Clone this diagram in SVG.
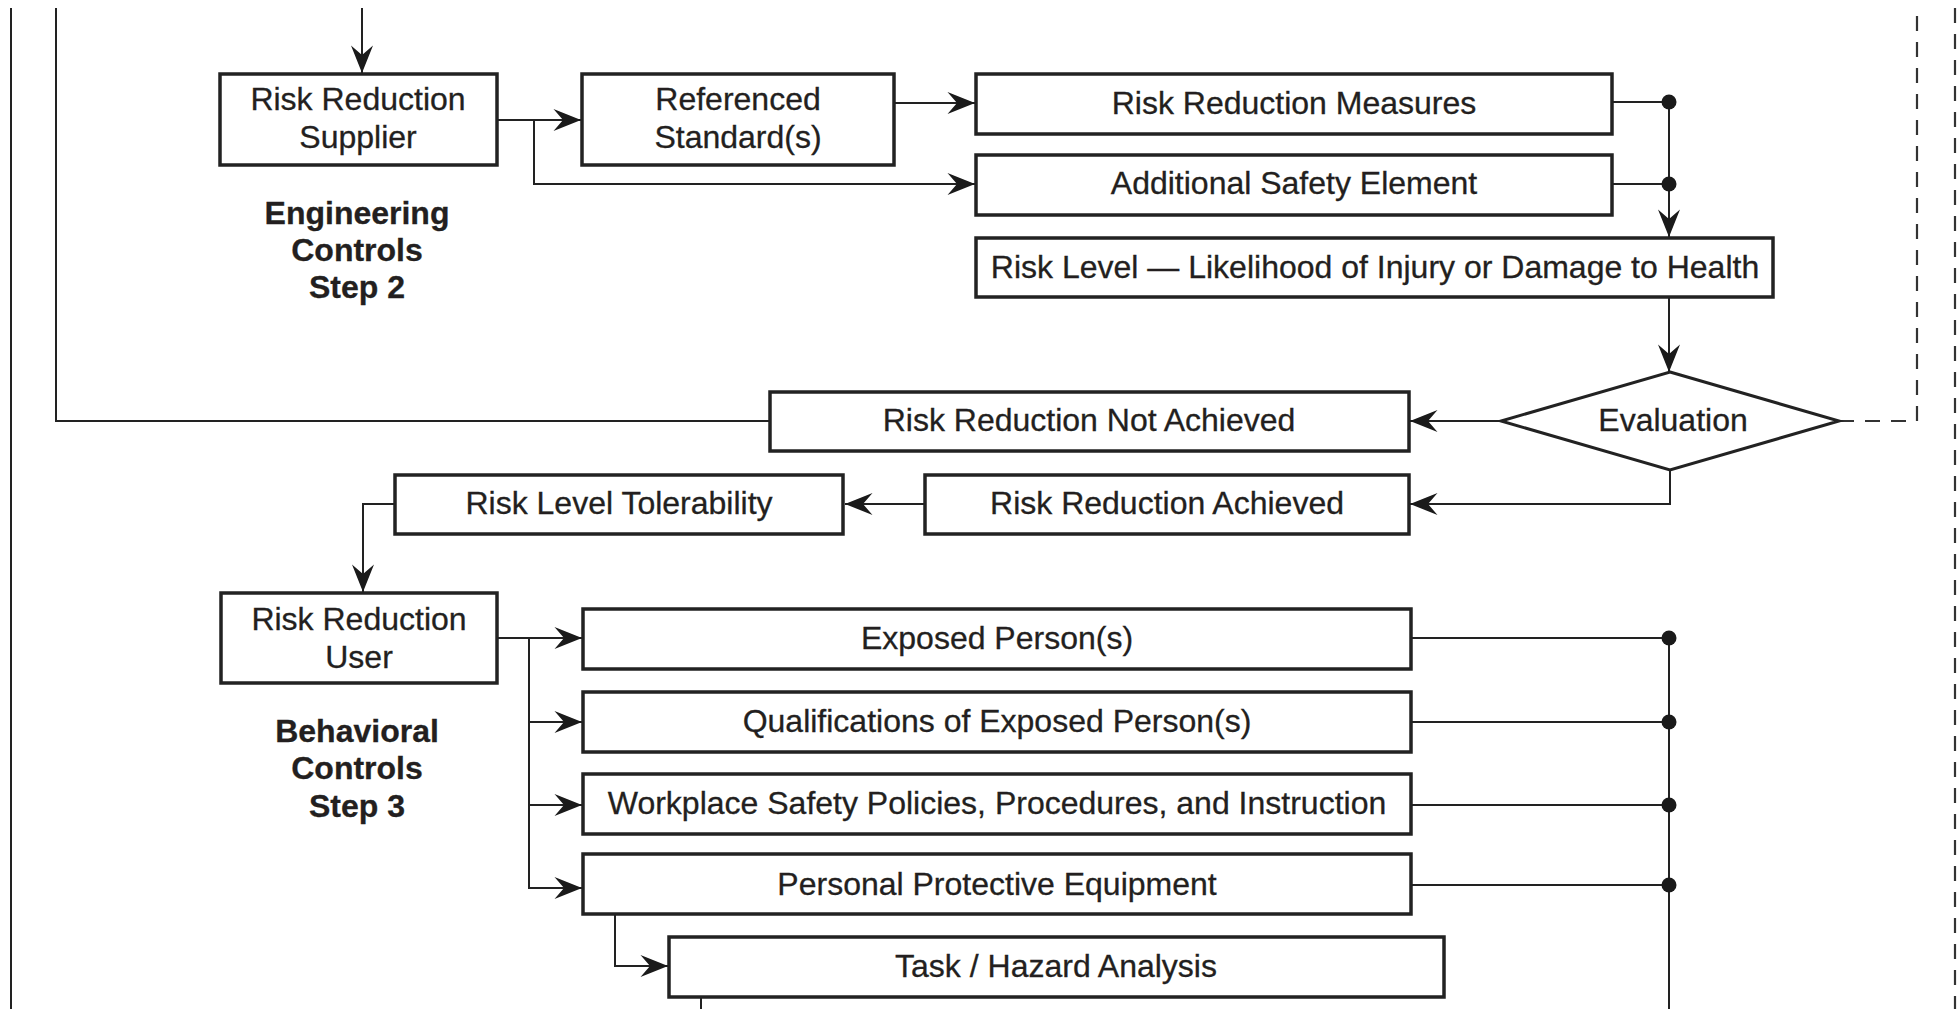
<svg xmlns="http://www.w3.org/2000/svg" width="1958" height="1009" viewBox="0 0 1958 1009">
<style>
.box{fill:#fff;stroke:#222;stroke-width:3.5}
.t{font-family:"Liberation Sans",Arial,Helvetica,sans-serif;font-size:32px;fill:#231f20;text-anchor:middle;stroke:#231f20;stroke-width:0.3}
.b{font-weight:bold}
.c{fill:none;stroke:#222;stroke-width:2}
.a{marker-end:url(#arr)}
.d{fill:none;stroke:#333;stroke-width:2.2;stroke-dasharray:15 11}
.dot{fill:#1a1a1a}
</style>
<defs>
<marker id="arr" markerWidth="30" markerHeight="24" refX="28" refY="12" orient="auto" markerUnits="userSpaceOnUse" viewBox="0 0 30 24">
<path d="M28,12 L0.5,1 L10,12 L0.5,23 Z" fill="#1a1a1a"/>
</marker>
</defs>
<rect width="1958" height="1009" fill="#fff"/>

<g id="connectors">
<path class="c" d="M11,8 V1009"/>
<path class="d" d="M1955,8 V1009"/>
<path class="c a" d="M362,8 V73"/>
<path class="c a" d="M497,120 H581"/>
<path class="c a" d="M534,120 V184 H975"/>
<path class="c a" d="M894,103 H975"/>
<path class="c" d="M1612,102 H1669"/>
<path class="c" d="M1612,184 H1669"/>
<path class="c a" d="M1669,102 V237"/>
<path class="c a" d="M1669,297 V372"/>
<path class="c a" d="M1501,421 H1410"/>
<path class="c" d="M769,421 H56 V8"/>
<path class="d" d="M1839,421 H1917 V8"/>
<path class="c a" d="M1670,470 V504 H1410"/>
<path class="c a" d="M924,504 H845"/>
<path class="c a" d="M394,504 H363 V592"/>
<path class="c a" d="M497,638 H582"/>
<path class="c a" d="M529,638 V888 H582"/>
<path class="c a" d="M529,722 H582"/>
<path class="c a" d="M529,805 H582"/>
<path class="c" d="M1411,638 H1669"/>
<path class="c" d="M1411,722 H1669"/>
<path class="c" d="M1411,805 H1669"/>
<path class="c" d="M1411,885 H1669"/>
<path class="c" d="M1669,638 V1009"/>
<path class="c a" d="M615,914 V966 H668"/>
<path class="c" d="M701,997 V1009"/>
<circle class="dot" cx="1669" cy="102" r="7.5"/>
<circle class="dot" cx="1669" cy="184" r="7.5"/>
<circle class="dot" cx="1669" cy="638" r="7.5"/>
<circle class="dot" cx="1669" cy="722" r="7.5"/>
<circle class="dot" cx="1669" cy="805" r="7.5"/>
<circle class="dot" cx="1669" cy="885" r="7.5"/>
</g>

<g id="supplier">
<rect class="box" x="220" y="74" width="277" height="91"/>
<text class="t" x="358" y="110">Risk Reduction</text>
<text class="t" x="358" y="148">Supplier</text>
</g>
<g id="step2-label">
<text class="t b" x="357" y="224">Engineering</text>
<text class="t b" x="357" y="261">Controls</text>
<text class="t b" x="357" y="298">Step 2</text>
</g>
<g id="referenced">
<rect class="box" x="582" y="74" width="312" height="91"/>
<text class="t" x="738" y="110">Referenced</text>
<text class="t" x="738" y="148">Standard(s)</text>
</g>
<g id="measures">
<rect class="box" x="976" y="74" width="636" height="60"/>
<text class="t" x="1294" y="114">Risk Reduction Measures</text>
</g>
<g id="additional">
<rect class="box" x="976" y="155" width="636" height="60"/>
<text class="t" x="1294" y="194">Additional Safety Element</text>
</g>
<g id="risklevel">
<rect class="box" x="976" y="238" width="797" height="59"/>
<text class="t" x="1375" y="278">Risk Level — Likelihood of Injury or Damage to Health</text>
</g>
<g id="evaluation">
<polygon points="1670,372 1839,421 1670,470 1501,421" fill="#fff" stroke="#222" stroke-width="3"/>
<text class="t" x="1673" y="431">Evaluation</text>
</g>
<g id="notachieved">
<rect class="box" x="770" y="392" width="639" height="59"/>
<text class="t" x="1089" y="431">Risk Reduction Not Achieved</text>
</g>
<g id="achieved">
<rect class="box" x="925" y="475" width="484" height="59"/>
<text class="t" x="1167" y="514">Risk Reduction Achieved</text>
</g>
<g id="tolerability">
<rect class="box" x="395" y="475" width="448" height="59"/>
<text class="t" x="619" y="514">Risk Level Tolerability</text>
</g>
<g id="user">
<rect class="box" x="221" y="593" width="276" height="90"/>
<text class="t" x="359" y="630">Risk Reduction</text>
<text class="t" x="359" y="668">User</text>
</g>
<g id="step3-label">
<text class="t b" x="357" y="742">Behavioral</text>
<text class="t b" x="357" y="779">Controls</text>
<text class="t b" x="357" y="817">Step 3</text>
</g>
<g id="exposed">
<rect class="box" x="583" y="609" width="828" height="60"/>
<text class="t" x="997" y="649">Exposed Person(s)</text>
</g>
<g id="qualifications">
<rect class="box" x="583" y="692" width="828" height="60"/>
<text class="t" x="997" y="732">Qualifications of Exposed Person(s)</text>
</g>
<g id="workplace">
<rect class="box" x="583" y="774" width="828" height="60"/>
<text class="t" x="997" y="814">Workplace Safety Policies, Procedures, and Instruction</text>
</g>
<g id="ppe">
<rect class="box" x="583" y="854" width="828" height="60"/>
<text class="t" x="997" y="895">Personal Protective Equipment</text>
</g>
<g id="task">
<rect class="box" x="669" y="937" width="775" height="60"/>
<text class="t" x="1056" y="977">Task / Hazard Analysis</text>
</g>
</svg>
